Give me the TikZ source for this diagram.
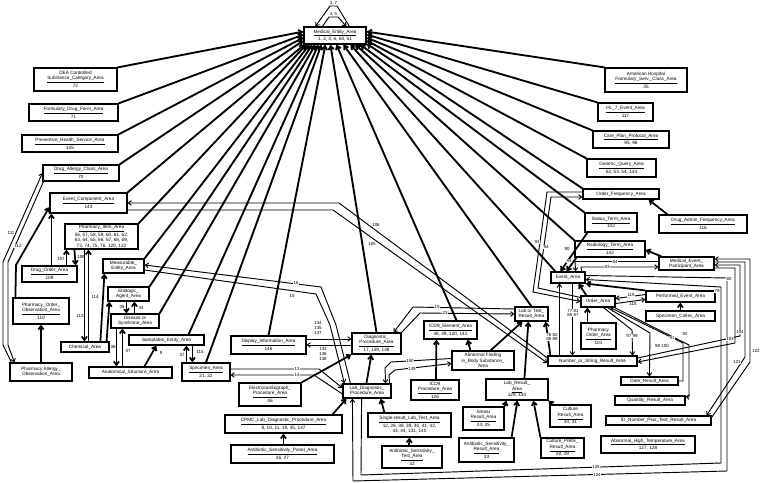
\documentclass[tikz,border=0pt]{standalone}
\usepackage{fontspec}
\setmainfont{Liberation Sans}
\usepackage{tikz}
\usetikzlibrary{arrows.meta,calc}

% box from pixel corners: x1 y1 x2 y2 name text
\newcommand\entbox[6]{%
  \node[erbox, minimum width={(#3-#1)*0.3mm}, minimum height={(#4-#2)*0.3mm}]
    (#5) at ({(#1+#3)/2},{(#2+#4)/2}) {#6};}

\begin{document}
\begin{tikzpicture}[x=0.3mm, y=-0.3mm,
  erbox/.style={draw, line width=1pt, inner sep=0pt, align=center,
    font=\fontsize{4}{4.5}\selectfont},
  fan/.style={line width=1.6pt, -{Straight Barb[length=3pt,width=4.5pt]}},
  rel/.style={line width=1.5pt, -{Straight Barb[length=3pt,width=4.5pt]}},
  lnk/.style={line width=0.8pt, -{Straight Barb[length=2.6pt,width=4pt]}},
  lbl/.style={fill=white, inner sep=0.3pt, align=center,
    font=\fontsize{3.8}{4.2}\selectfont}]
\fill[white] (0,0) rectangle (762,483);
\useasboundingbox (0,0) rectangle (762,483);

% top entity
\entbox{304}{27}{366}{44}{me}{\underline{Medical\_Entity\_Area}\\1, 2, 3, 6, 50, 51}

% left column
\entbox{34}{68}{117}{91}{dea}{DEA Controlled\\\underline{Substance\_Category\_Area}\\72}
\entbox{29}{104}{118}{121}{fdf}{\underline{Formulary\_Drug\_Form\_Area}\\71}
\entbox{22}{135}{118}{152}{phs}{\underline{Preventive\_Health\_Service\_Area}\\145}
\entbox{43}{165}{119}{181}{dac}{\underline{Drug\_Allergy\_Class\_Area}\\70}
\entbox{50}{193}{127}{213}{ecm}{\underline{Event\_Component\_Area}\\143}
\entbox{65}{224}{138}{249}{pit}{\underline{Pharmacy\_Item\_Area}\\56, 57, 58, 59, 60, 61, 62,\\63, 64, 65, 66, 67, 68, 69,\\73, 74, 75, 76, 120, 122}
\entbox{22}{266}{77}{282}{dor}{\underline{Drug\_Order\_Area}\\109}
\entbox{13}{298}{69}{324}{poo}{Pharmacy\_Order\_\\\underline{Observation\_Area}\\110}
\entbox{10}{363}{72}{381}{pao}{Pharmacy Allergy\_\\Observation\_Area}
\entbox{103}{259}{144}{273}{mea}{Measurable\_\\Entity\_Area}
\entbox{108}{287}{149}{301}{eti}{Etiologic\_\\Agent\_Area}
\entbox{111}{314}{159}{328}{dis}{Disease or\\Syndrome\_Area}
\entbox{61}{342}{109}{352}{che}{Chemical\_Area}
\entbox{129}{335}{204}{345}{sam}{Samplable\_Entity\_Area}
\entbox{89}{367}{172}{378}{ana}{Anatomical\_Structure\_Area}
\entbox{182}{363}{230}{381}{spe}{\underline{Specimen\_Area}\\21, 22}

% middle
\entbox{231}{336}{306}{354}{dsp}{\underline{Display\_Information\_Area}\\146}
\entbox{239}{383}{301}{406}{ecg}{Electrocardiograph\_\\\underline{Procedure\_Area}\\46}
\entbox{225}{415}{342}{433}{cpm}{\underline{CPMC\_Lab\_Diagnostic\_Procedure\_Area}\\8, 10, 11, 19, 45, 147}
\entbox{231}{445}{334}{463}{asp}{\underline{Antibiotic\_Sensitivity\_Panel\_Area}\\26, 27}
\entbox{352}{333}{401}{354}{dgp}{Diagnostic\_\\\underline{Procedure\_Area}\\17, 139, 148}
\entbox{343}{384}{391}{398}{ldp}{Lab\_Diagnostic\_\\Procedure\_Area}
\entbox{368}{413}{451}{437}{srl}{\underline{Single-result\_Lab\_Test\_Area}\\12, 28, 38, 39, 40, 41, 42,\\43, 44, 131, 140}
\entbox{382}{446}{442}{468}{ast}{Antibiotic\_Sensitivity\_\\\underline{Test\_Area}\\32}
\entbox{424}{321}{477}{339}{icde}{\underline{ICD9\_Element\_Area}\\48, 49, 120, 141}
\entbox{452}{351}{514}{370}{abf}{Abnormal Finding\\in\_Body Substance\_\\Area}
\entbox{411}{380}{459}{400}{icdp}{ICD9\\\underline{Procedure\_Area}\\126}
\entbox{515}{307}{548}{321}{lot}{Lab or Test\_\\Result\_Area}
\entbox{486}{379}{548}{400}{lrs}{Lab\_Result\_\\\underline{Area}\\129, 130}
\entbox{463}{407}{504}{430}{smr}{Smear\\\underline{Result\_Area}\\24, 25}
\entbox{550}{405}{591}{427}{cul}{Culture\\\underline{Result\_Area}\\30, 31}
\entbox{459}{438}{514}{462}{asr}{Antibiotic\_Sensitivity\_\\\underline{Result\_Area}\\33}
\entbox{541}{438}{584}{458}{cpr}{Culture\_Prefix\_\\\underline{Result\_Area}\\28, 29}
\entbox{548}{356}{637}{366}{nos}{Number\_or\_String\_Result\_Area}
\entbox{581}{323}{616}{349}{pho}{Pharmacy\\\underline{Order\_Area}\\101}
\entbox{621}{377}{678}{385}{dat}{Date\_Result\_Area}
\entbox{615}{396}{685}{405}{qty}{Quantity\_Result\_Area}
\entbox{606}{416}{711}{425}{idn}{ID\_Number\_Plus\_Test\_Result\_Area}
\entbox{601}{436}{695}{453}{aht}{\underline{Abnormal\_High\_Temperature\_Area}\\127, 128}

% right column
\entbox{605}{68}{687}{92}{ahf}{American Hospital\\\underline{Formulary\_Serv.\_Class\_Area}\\35}
\entbox{598}{103}{653}{121}{hl7}{\underline{HL\_7\_Event\_Area}\\117}
\entbox{593}{131}{669}{148}{cpp}{\underline{Care\_Plan\_Protocol\_Area}\\95, 96}
\entbox{587}{159}{656}{177}{gqa}{\underline{Generic\_Query\_Area}\\52, 53, 54, 144}
\entbox{583}{189}{659}{199}{ofr}{Order\_Frequency\_Area}
\entbox{585}{213}{637}{232}{stt}{\underline{Status\_Term\_Area}\\102}
\entbox{659}{215}{747}{233}{daf}{\underline{Drug\_Admin\_Frequency\_Area}\\116}
\entbox{575}{241}{645}{257}{rdt}{\underline{Radiology\_Term\_Area}\\142}
\entbox{659}{257}{714}{270}{mep}{Medical\_Event\_\\Participant\_Area}
\entbox{551}{272}{585}{283}{eva}{Event\_Area}
\entbox{581}{296}{615}{307}{ord}{Order\_Area}
\entbox{646}{291}{715}{302}{pev}{Performed\_Event\_Area}
\entbox{646}{311}{715}{321}{spc}{Specimen\_Collec\_Area}

% fan into the top entity
\coordinate (samtip) at ($(sam.north east)+(-16,0)$);
\coordinate (icdetip) at ($(icde.north)+(6,0)$);
\coordinate (evatip) at ($(eva.north west)+(5,0)$);
\foreach \leaf/\dy in {dea.north east/-13, fdf.north east/-10, phs.north east/-7, dac.north east/-4}
  \draw[fan] (\leaf) -- ($(me.south west)+(0,\dy)$);
\foreach \leaf/\dx in {ecm.north east/1, pit.north east/3, mea.north east/6, eti.north east/9,
    dis.north east/12, samtip/15, spe.north/18, dsp.north/22, dgp.north/27, icdetip/33,
    lot.north/40, evatip/47, rdt.north west/52, stt.north west/57}
  \draw[fan] (\leaf) -- ($(me.south west)+(\dx,0)$);
\foreach \leaf/\dy in {ofr.north west/-1, gqa.north west/-4, cpp.north west/-7,
    hl7.north west/-10, ahf.north west/-13}
  \draw[fan] (\leaf) -- ($(me.south east)+(0,\dy)$);

% self loops
\draw[lnk] ($(me.north west)+(46,0)$) -- (337,6) -- (330,6) -- ($(me.north west)+(12,0)$);
\node[lbl, fill=none, anchor=south] (l37) at (333.5,6) {3, 7};
\draw[lnk] ($(me.north west)+(19,0)$) -- (329,17) -- (338,17) -- ($(me.north west)+(43,0)$);
\node[lbl, fill=none, anchor=south] (l45) at (333.5,17) {4, 5};

% left group
\draw[rel] (pao) -- (poo);
\draw[rel] ($(dor.north west)+(30,0)$) -- ($(ecm.south west)+(2,0)$);
\draw[rel] ($(poo.north west)+(3,0)$) -- (16,265) -- ($(ecm.west)+(0,4)$);
\draw[lnk] ($(pao.north west)+(2,0)$) -- (3,345) -- (3,262) -- (dac.west);
\draw[lnk] ($(dac.south west)+(2,-2)$) -- (8,262) -- (8,345) -- ($(pao.north west)+(5,0)$);
\node[lbl] (l111) at (11,233) {111};
\node[lbl] (l112) at (18,246) {112};
\draw[rel] ($(dor.north west)+(45,0)$) -- ($(pit.south west)+(2,0)$);
\draw[rel] ($(pit.south west)+(10,0)$) -- ($(dor.north east)+(-2,0)$);
\node[lbl] (l107) at (61,259) {107};
\node[lbl] (l108) at (81,257) {108};
\draw[rel] ($(pit.south west)+(20,0)$) -- ($(che.north west)+(24,0)$);
\draw[rel] ($(che.north west)+(28,0)$) -- ($(pit.south west)+(24,0)$);
\node[lbl] (l113) at (80,316) {113};
\node[lbl] (l114) at (95,297) {114};
\draw[rel] ($(che.north west)+(40,0)$) -- ($(mea.south west)+(2,0)$);
\draw[rel] ($(che.north east)+(-3,0)$) -- ($(eti.south west)+(2,0)$);
\draw[rel] ($(eti.south west)+(19,0)$) -- ($(dis.north west)+(16,0)$);
\draw[rel] ($(dis.north west)+(24,0)$) -- ($(eti.south west)+(27,0)$);
\node[lbl] (l35) at (122,307) {35};
\node[lbl] (l34) at (141,308) {34};
\draw[rel] ($(dis.south west)+(6,0)$) -- ($(ana.north west)+(28,0)$);
\draw[rel] ($(ana.north west)+(34,0)$) -- ($(dis.south west)+(12,0)$);
\node[lbl] (l36) at (113,347) {36};
\node[lbl] (l37b) at (128,351) {37};
\draw[rel] ($(ana.north west)+(56,0)$) -- ($(sam.south west)+(28,0)$);
\node[lbl] (l9) at (161,353) {9};
\draw[rel] ($(spe.north west)+(5,0)$) -- ($(sam.south west)+(58,0)$);
\draw[rel] ($(sam.south west)+(64,0)$) -- ($(spe.north west)+(11,0)$);
\node[lbl] (l47) at (182,355) {47};
\node[lbl] (l115) at (200,352) {115};

% measurable / specimen to lab diagnostic
\draw[lnk] ($(ldp.north west)+(8,0)$) -- (336,325) -- (321,287) -- ($(mea.east)+(0,-1)$);
\draw[lnk] ($(mea.east)+(0,4)$) -- (316,294) -- (330,325) -- ($(ldp.north west)+(2,0)$);
\node[lbl] (l16) at (296,283) {16};
\node[lbl] (l15) at (292,296) {15};
\draw[lnk] ($(spe.east)+(0,-3)$) -- (319,369) -- ($(ldp.west)+(0,-3)$);
\draw[lnk] ($(ldp.west)+(0,3)$) -- (314,375) -- ($(spe.east)+(0,3)$);
\node[lbl] (l13) at (297,369) {13};
\node[lbl] (l14) at (297,375) {14};

% event component to number result
\draw[lnk] ($(nos.west)+(0,-3)$) -- (339,203) -- (ecm.east);
\draw[lnk] ($(ecm.east)+(0,7)$) -- (333,210) -- ($(nos.west)+(0,2)$);
\node[lbl] (l106) at (376,225) {106};
\node[lbl] (l105) at (372,244) {105};

% diagnostic procedures
\draw[lnk] ($(dsp.east)+(0,-6)$) -- ($(dgp.west)+(0,-4.5)$);
\draw[lnk] ($(dgp.west)+(0,1.5)$) -- (dsp.east);
\node[lbl, fill=none] (l134) at (318,328) {134\\135\\137};
\node[lbl, fill=none] (l133) at (323,354) {133\\136\\138};
\draw[rel] (ecg.north east) -- (dgp.south west);
\draw[rel] ($(ldp.north west)+(24,0)$) -- ($(dgp.south west)+(20,0)$);
\draw[rel] ($(cpm.north east)+(-10,0)$) -- ($(ldp.south west)+(4,0)$);
\draw[rel] ($(asp.north west)+(53,0)$) -- ($(cpm.south west)+(59,0)$);
\draw[rel] ($(srl.north west)+(17,0)$) -- ($(ldp.south east)+(-11,0)$);
\draw[rel] ($(ast.north)+(-3,0)$) -- (srl.south);
\draw[lnk] ($(abf.west)+(0,-2)$) -- (391,362) -- (385,368) -- ($(ldp.north east)+(-6,0)$);
\draw[lnk] ($(ldp.north east)+(-2,0)$) -- (389,375) -- (395,370) -- ($(abf.west)+(0,3)$);
\node[lbl] (l150) at (410,361) {150};
\node[lbl] (l149) at (412,369) {149};
\draw[rel] ($(icdp.north)+(1,0)$) -- ($(icde.south west)+(13,0)$);
\draw[rel] ($(abf.north west)+(19,0)$) -- ($(icde.south east)+(-10,0)$);
\draw[rel] ($(abf.north east)+(-24,0)$) -- ($(lot.south west)+(8,0)$);
\draw[lnk] ($(lot.west)+(0,-5)$) -- (413,307) -- ($(dgp.north east)+(-8,0)$);
\draw[lnk] (dgp.north east) -- (420,313) -- (lot.west);
\node[lbl] (l19) at (437,307) {19};
\node[lbl] (l23) at (445,313) {23};

% results
\draw[rel] ($(lrs.north west)+(39,0)$) -- ($(lot.south west)+(14,0)$);
\draw[rel] ($(nos.north west)+(3,0)$) -- ($(lot.south east)+(-3,0)$);
\draw[rel] (smr.north east) -- ($(lrs.south west)+(21,0)$);
\draw[rel] ($(asr.north east)+(-3,0)$) -- ($(lrs.south west)+(32,0)$);
\draw[rel] (cpr.north west) -- ($(lrs.south west)+(48,0)$);
\draw[rel] ($(cul.north west)+(3,0)$) -- (lrs.south east);
\draw[lnk] ($(nos.north west)+(12,0)$) -- ($(eva.south west)+(9,0)$);
\draw[lnk] ($(eva.south west)+(22,0)$) -- ($(nos.north west)+(25,0)$);
\node[lbl] (l78) at (552,337) {78 82\\86 88};
\node[lbl] (l77) at (573,313) {77 81\\85 87};

% event and order group
\draw[rel] ($(pho.north west)+(7,0)$) -- ($(ord.south west)+(7,0)$);
\draw[rel] ($(ord.north west)+(6,0)$) -- ($(eva.south east)+(-7,0)$);
\draw[rel] (pev.north west) -- (eva.south east);
\draw[lnk] ($(pev.west)+(0,-2)$) -- ($(ord.east)+(0,-3)$);
\draw[lnk] ($(ord.east)+(0,2)$) -- ($(pev.west)+(0,3)$);
\node[lbl] (l119) at (631,295) {119};
\node[lbl] (l118) at (633,304) {118};
\draw[rel] ($(spc.north west)+(35,0)$) -- ($(pev.south west)+(35,0)$);
\draw[lnk] ($(ofr.west)+(0,-2)$) -- (547,192) -- (533,292) -- (ord.west);
\draw[lnk] ($(ord.west)+(0,-4)$) -- (538,288) -- (551,197) -- ($(ofr.west)+(0,3)$);
\node[lbl] (l93) at (537,242) {93};
\node[lbl] (l94) at (546,247) {94};
\draw[rel] ($(daf.north west)+(9,0)$) -- ($(ofr.south east)+(-11,0)$);
\draw[rel] ($(stt.south west)+(3,0)$) -- ($(eva.north west)+(10,0)$);
\node[lbl] (l90) at (567,249) {90};
\draw[rel] ($(rdt.south west)+(2,0)$) -- ($(eva.north west)+(16,0)$);
\node[lbl] (l89) at (569,261) {89};
\draw[lnk] ($(mep.west)+(0,-2)$) -- (575,261.5) -- ($(eva.north east)+(-10,0)$);
\draw[lnk] ($(eva.north east)+(-4,0)$) -- (581,267) -- ($(mep.west)+(0,3.5)$);
\node[lbl] (l84) at (615,261.5) {84};
\node[lbl] (l83) at (607,267) {83};
\draw[rel] ($(mep.north west)+(3,0)$) -- ($(rdt.east)+(0,1)$);

% order to results
\draw[lnk] ($(ord.south west)+(23,0)$) -- (632,330) -- ($(nos.north east)+(-5,0)$);
\draw[lnk] ($(ord.south west)+(27,0)$) -- (650,333) -- ($(dat.north west)+(29,0)$);
\draw[lnk] (dat.east) -- (683,381) -- (683,343) -- ($(ord.south west)+(30,0)$);
\draw[lnk] ($(ord.south east)+(-1,0)$) -- (689,345) -- (689,397) -- ($(qty.north east)+(0,1)$);
\node[lbl] (l97) at (632,336) {97 99};
\node[lbl] (l98) at (662,346) {98 100};
\node[lbl] (l91) at (672,338) {91};
\node[lbl] (l92) at (685,334) {92};

% long right side connectors
\draw[lnk] ($(ldp.south east)+(-30,0)$) -- (361,475) -- (721,463) -- (721,287) -- ($(eva.east)+(0,2)$);
\draw[lnk] ($(eva.east)+(0,-2)$) -- (727,278) -- (727,471) -- (353,481) -- ($(ldp.south west)+(10,0)$);
\node[lbl] (l125) at (596,467) {125};
\node[lbl] (l124) at (597,474.5) {124};
\node[lbl] (l79) at (717,291) {79};
\node[lbl] (l80) at (729,279) {80};
\draw[lnk] ($(idn.north east)+(0,2)$) -- (750,362) -- (750,259) -- ($(mep.east)+(0,-4.5)$);
\draw[lnk] ($(mep.east)+(0,-1.5)$) -- (745,262) -- (745,357) -- ($(idn.north east)+(-5,0)$);
\draw[lnk] ($(nos.east)+(0,-3)$) -- (740,336) -- (740,265) -- ($(mep.east)+(0,1.5)$);
\draw[lnk] ($(mep.east)+(0,4.5)$) -- (735,268) -- (735,343) -- ($(nos.east)+(0,1)$);
\node[lbl] (l122) at (756,351) {122};
\node[lbl] (l121) at (737,362) {121};
\node[lbl] (l104) at (740,332) {104};
\node[lbl] (l103) at (730,339) {103};
\end{tikzpicture}
\end{document}
